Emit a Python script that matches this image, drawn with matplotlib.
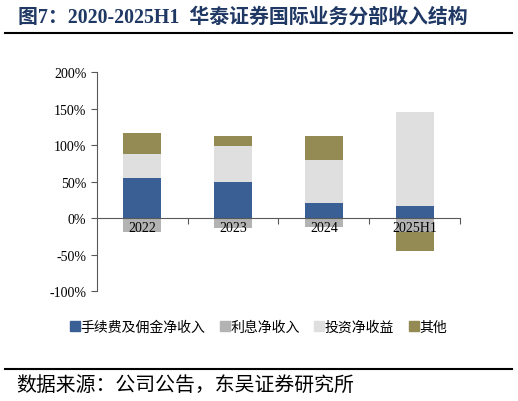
import numpy as np
import matplotlib.pyplot as plt
from matplotlib.lines import Line2D

# values, in %
years = ['2022', '2023', '2024', '2025H1']
fee_income = [55, 50, 20, 17]
interest_income = [-18.5, -14, -12.5, -18.5]
invest_income = [32, 49, 60, 128]
other_income = [30, 14, 32, -26.5]

labels = ['手续费及佣金净收入', '利息净收入', '投资净收益', '其他']
colors = ['#3A5F94', '#B3B3B3', '#DFDFDF', '#948A54']

cjk = ['Noto Sans CJK SC', 'DejaVu Sans']
serif = ['Liberation Serif', 'Noto Sans CJK SC']

fig = plt.figure(figsize=(5.18, 4.02), dpi=100)
ax = fig.add_axes([0.187, 0.2736, 0.701, 0.5448])

x = np.arange(len(years))
width = 0.42
series = [fee_income, interest_income, invest_income, other_income]
pos_base = np.zeros(len(years))
neg_base = np.zeros(len(years))
for vals, lab, col in zip(series, labels, colors):
    vals = np.array(vals, dtype=float)
    bottom = np.where(vals >= 0, pos_base, neg_base)
    ax.bar(x, vals, width, bottom=bottom, color=col, label=lab, zorder=2)
    pos_base = pos_base + np.where(vals >= 0, vals, 0)
    neg_base = neg_base + np.where(vals < 0, vals, 0)

ax.set_xlim(-0.5, 3.5)
ax.set_ylim(-100, 200)
ax.set_yticks(np.arange(-100, 201, 50))
ax.set_yticklabels([f'{v}%' for v in range(-100, 201, 50)], family=serif, fontsize=10)

# x axis sits on zero, ticks between categories
ax.spines['top'].set_visible(False)
ax.spines['right'].set_visible(False)
ax.spines['bottom'].set_position(('data', 0))
ax.spines['bottom'].set_color('#595959')
ax.spines['left'].set_color('#595959')
ax.set_xticks(np.arange(0.5, 4, 1))
ax.set_xticklabels([])
ax.tick_params(axis='x', direction='out', length=4, color='#595959')
ax.tick_params(axis='y', direction='out', length=4, color='#595959')
for xi, yr in zip(x, years):
    ax.text(xi, -4, yr, ha='center', va='top', family=serif, fontsize=10, zorder=3)

handles = [Line2D([], [], marker='s', linestyle='', markersize=7, color=c) for c in colors]
fig.legend(handles, labels, loc='center', bbox_to_anchor=(0.5, 0.185), ncol=4,
           frameon=False, prop={'family': cjk, 'size': 10},
           handlelength=0.6, handletextpad=0.1, columnspacing=1.1)

# title and source with rules
fig.text(0.035, 0.955, '图7：2020-2025H1  华泰证券国际业务分部收入结构', family=serif,
         fontsize=14.3, fontweight='bold', color='#1F3864', va='center')
fig.add_artist(Line2D([0.01, 0.988], [0.915, 0.915], color='black', lw=1.5))
fig.add_artist(Line2D([0.01, 0.988], [0.08, 0.08], color='black', lw=1.5))
fig.text(0.032, 0.042, '数据来源：公司公告，东吴证券研究所', family=cjk, fontsize=14.3, va='center')

fig.savefig('out.png', dpi=100)
